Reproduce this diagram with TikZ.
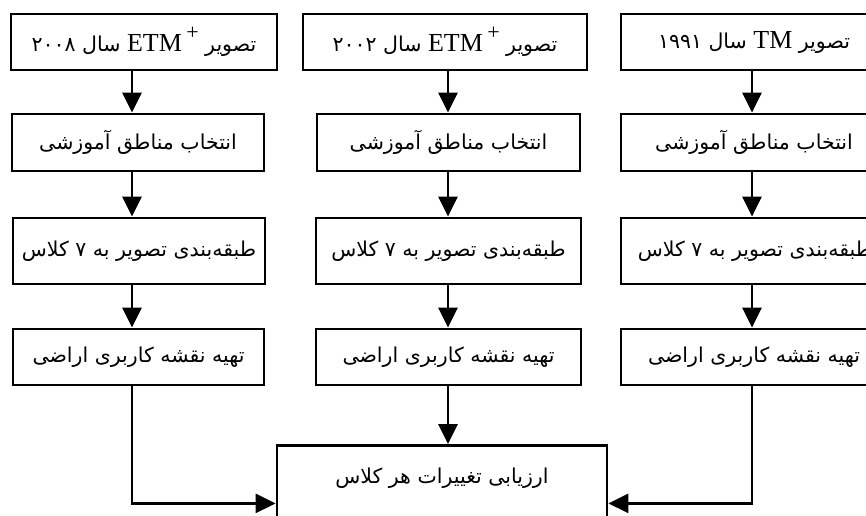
\documentclass[tikz,border=0pt]{standalone}
\usepackage{fontspec}
\setmainfont{Liberation Serif}
\newfontfamily\arabicfont[Script=Arabic]{DejaVu Sans}
\TeXXeTstate=1
\usetikzlibrary{arrows.meta}
\def\FA#1{{\arabicfont\beginR #1\endR}}
\def\LT#1{\beginL{\rmfamily\fontsize{26}{30}\selectfont #1}\endL}
\def\PL{\,\raisebox{1.05ex}{\fontsize{22}{22}\selectfont+}}
\tikzset{flowbox/.style={draw,line width=2.8pt,minimum height=56pt,inner sep=0pt,font=\fontsize{20.5}{24}\selectfont},
  arr/.style={line width=2.8pt,-{Triangle[length=20pt,width=19pt]}}}

\begin{document}
\begin{tikzpicture}[x=1pt,y=-1pt]
\useasboundingbox (0,0) rectangle (866,515);
\clip (0,0) rectangle (866,515);
\coordinate (colL) at (132,0);
\coordinate (colM) at (448,0);
\coordinate (colR) at (752,0);
% left column
\node[flowbox,minimum width=266pt] (L1) at (144,42) {\FA{تصویر \LT{ETM\PL}\ سال ۲۰۰۸}};
\node[flowbox,minimum width=252pt,minimum height=57pt] (L2) at (138,142.5) {\FA{انتخاب مناطق آموزشی}};
\node[flowbox,minimum width=252pt,minimum height=66pt] (L3) at (139,251) {\FA{طبقه‌بندی تصویر به ۷ کلاس}};
\node[flowbox,minimum width=251pt] (L4) at (138.5,357) {\FA{تهیه نقشه کاربری اراضی}};
% middle column
\node[flowbox,minimum width=284pt] (M1) at (445,42) {\FA{تصویر \LT{ETM\PL}\ سال ۲۰۰۲}};
\node[flowbox,minimum width=263pt,minimum height=57pt] (M2) at (448.5,142.5) {\FA{انتخاب مناطق آموزشی}};
\node[flowbox,minimum width=265pt,minimum height=66pt] (M3) at (448.5,251) {\FA{طبقه‌بندی تصویر به ۷ کلاس}};
\node[flowbox,minimum width=265pt] (M4) at (448.5,357) {\FA{تهیه نقشه کاربری اراضی}};
% right column
\node[flowbox,minimum width=266pt] (R1) at (754,42) {\FA{تصویر \LT{TM}\ سال ۱۹۹۱}};
\node[flowbox,minimum width=266pt,minimum height=57pt] (R2) at (754,142.5) {\FA{انتخاب مناطق آموزشی}};
\node[flowbox,minimum width=268pt,minimum height=66pt] (R3) at (755,251) {\FA{طبقه‌بندی تصویر به ۷ کلاس}};
\node[flowbox,minimum width=266pt] (R4) at (754,357) {\FA{تهیه نقشه کاربری اراضی}};
% change detection
\node[flowbox,minimum width=330pt,minimum height=116pt,anchor=north] (eval) at (442,444) {};
\node[font=\fontsize{20.5}{24}\selectfont] (evaltxt) at (442,478) {\FA{ارزیابی تغییرات هر کلاس}};
\foreach \c/\a/\b in {L/1/2,L/2/3,L/3/4,M/1/2,M/2/3,M/3/4,R/1/2,R/2/3,R/3/4}
  \draw[arr] (\c\a.south -| col\c) -- (\c\b.north -| col\c);
\draw[arr] (L4.south -| colL) |- (eval.west);
\draw[arr] (M4.south -| colM) -- (eval.north -| colM);
\draw[arr] (R4.south -| colR) |- (eval.east);
\end{tikzpicture}
\end{document}
